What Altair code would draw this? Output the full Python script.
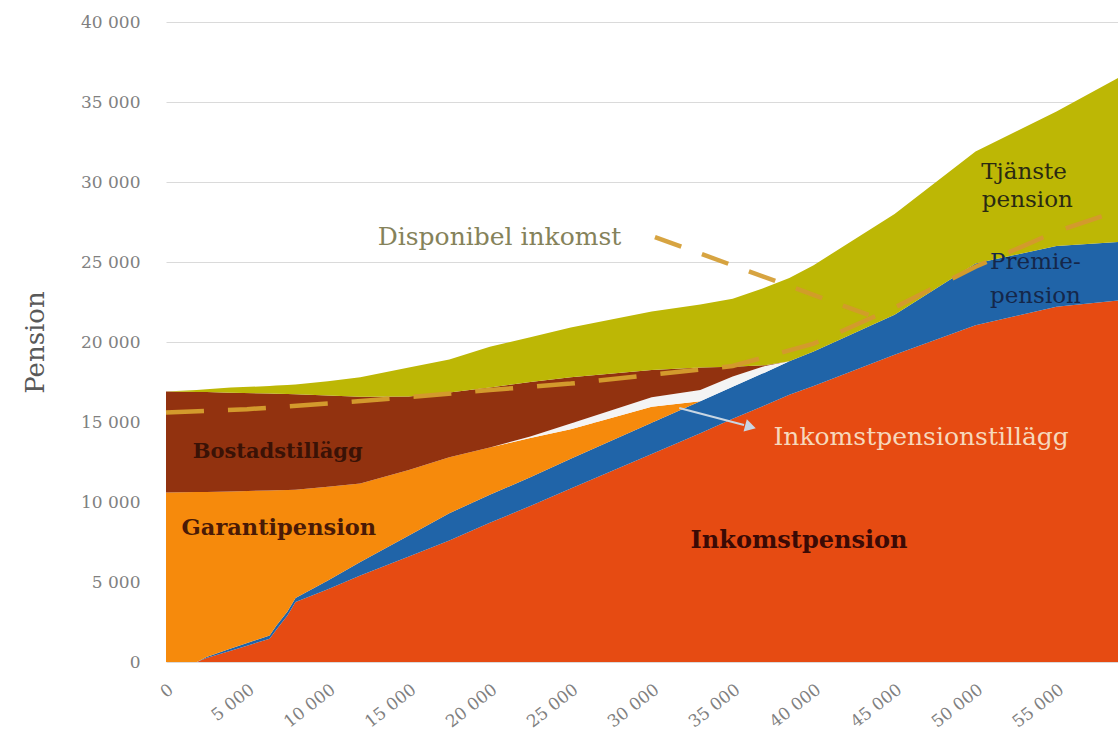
import altair as alt
import pandas as pd

# ---------------- data ----------------
income = [0, 1900, 2500, 4000, 6400, 6800, 7500, 8000, 10000, 12000, 15000, 17500,
          20000, 22500, 25000, 30000, 33000, 35000, 37000, 38500, 40000, 45000,
          50000, 55000, 58800]

inkomstpension = [0, 0, 250, 700, 1450, 2000, 2900, 3750, 4550, 5400, 6600, 7600,
                  8700, 9750, 10850, 13000, 14300, 15200, 16050, 16700, 17250, 19200,
                  21050, 22200, 22600]
premiepension = [0, 0, 70, 150, 200, 250, 250, 250, 550, 850, 1300, 1700,
                 1750, 1800, 1850, 1950, 2000, 2000, 2050, 2100, 2150, 2500,
                 3850, 3800, 3650]
garantipension = [10600, 10620, 10310, 9810, 9070, 8480, 7600, 6770, 5850, 4900, 4100, 3500,
                  2950, 2450, 1850, 1000, 0, 0, 0, 0, 0, 0,
                  0, 0, 0]
inkomstpensionstillagg = [0, 0, 0, 0, 0, 0, 0, 0, 0, 0, 0, 0,
                          0, 100, 350, 600, 700, 650, 400, 0, 0, 0,
                          0, 0, 0]
bostadstillagg = [6300, 6260, 6240, 6170, 6060, 6040, 6000, 5960, 5700, 5430, 4600, 4050,
                  3750, 3400, 2900, 1700, 1400, 600, 50, 0, 0, 0,
                  0, 0, 0]
tjanstepension = [0, 120, 180, 320, 470, 510, 570, 620, 900, 1220, 1800, 2050,
                  2550, 2800, 3100, 3650, 3950, 4250, 4850, 5200, 5400, 6300,
                  7000, 8400, 10250]

series_names = ["Inkomstpension", "Premiepension", "Garantipension",
                "Inkomstpensionstillägg", "Bostadstillägg", "Tjänstepension"]
series_values = [inkomstpension, premiepension, garantipension,
                 inkomstpensionstillagg, bostadstillagg, tjanstepension]
series_colors = ["#E64B12", "#2064A8", "#F68A0C", "#F4F4F4", "#92320F", "#BDB705"]

disp_income = [0, 5000, 10000, 15000, 20000, 25000, 30000, 35000, 40000, 45000,
               50000, 55000, 58800]
disp_values = [15600, 15800, 16150, 16550, 17000, 17400, 17950, 18500, 19900, 22150,
               24700, 26900, 28200]

# leader line from the "Disponibel inkomst" label to the line
leader_income = [30200, 43400]
leader_values = [26560, 21690]

# arrow pointing from the thin white band to its label
arrow_income = [31700, 35700]
arrow_values = [15875, 14810]
arrowhead_income = [36100]
arrowhead_values = [14700]

# text labels: text, income, value, colour, size, weight
label_texts = ["Bostadstillägg", "Garantipension", "Inkomstpension", "Inkomstpensionstillägg",
               "Disponibel inkomst", "Tjänste", "pension", "Premie-", "pension"]
label_income = [6900, 6970, 39100, 46640, 20600, 53000, 53200, 53700, 53700]
label_values = [13100, 8375, 7560, 14060, 26560, 30600, 28850, 25000, 22900]
label_colors = ["#3A1206", "#4A1A06", "#3B0A05", "#F6D8BC", "#85825A",
                "#2A2A12", "#2A2A12", "#15274A", "#15274A"]
label_sizes = [21, 22.5, 24, 25, 25, 23, 23, 23, 23]
label_weights = ["bold", "bold", "bold", "normal", "normal",
                 "normal", "normal", "normal", "normal"]

# ---------------- build tables ----------------
rows = []
for order, (name, vals) in enumerate(zip(series_names, series_values)):
    for x, v in zip(income, vals):
        rows.append({"inkomst": x, "belopp": v, "serie": name, "ordning": order})
df_areas = pd.DataFrame(rows)

df_disp = pd.DataFrame({"inkomst": disp_income, "belopp": disp_values})
df_leader = pd.DataFrame({"inkomst": leader_income, "belopp": leader_values})
df_arrow = pd.DataFrame({"inkomst": arrow_income, "belopp": arrow_values})
df_head = pd.DataFrame({"inkomst": arrowhead_income, "belopp": arrowhead_values})

FONT = "DejaVu Serif"
fmt = "replace(format(datum.value, ','), ',', ' ')"

x_scale = alt.Scale(domain=[0, 58800], nice=False, zero=True)
y_scale = alt.Scale(domain=[0, 40000], nice=False)

x_axis = alt.Axis(values=list(range(0, 60000, 5000)), labelExpr=fmt, labelAngle=-38,
                  labelFont=FONT, labelFontSize=17, labelColor="#808080",
                  labelPadding=19, grid=False, domain=False, ticks=False, title=None)
y_axis = alt.Axis(values=list(range(0, 45000, 5000)), labelExpr=fmt,
                  labelFont=FONT, labelFontSize=17, labelColor="#808080",
                  labelPadding=26, grid=True, gridColor="#DADADA", gridWidth=1,
                  domain=False, ticks=False, title="Pension", titleFont=FONT,
                  titleFontSize=26, titleFontWeight="normal", titleColor="#595959",
                  titlePadding=32)

areas = alt.Chart(df_areas).mark_area(interpolate="linear").encode(
    x=alt.X("inkomst:Q", scale=x_scale, axis=x_axis),
    y=alt.Y("belopp:Q", scale=y_scale, axis=y_axis, stack="zero"),
    color=alt.Color("serie:N", scale=alt.Scale(domain=series_names, range=series_colors),
                    legend=None),
    order=alt.Order("ordning:Q", sort="ascending"),
)

dash_color = "#D39A2C"
disp_line = alt.Chart(df_disp).mark_line(color=dash_color, strokeWidth=4.5,
                                         strokeDash=[38, 24]).encode(
    x="inkomst:Q", y="belopp:Q")

leader = alt.Chart(df_leader).mark_line(color=dash_color, strokeWidth=4.5,
                                        strokeDash=[28, 22], opacity=0.9).encode(
    x="inkomst:Q", y="belopp:Q")

arrow = alt.Chart(df_arrow).mark_line(color="#C9D6E3", strokeWidth=2).encode(
    x="inkomst:Q", y="belopp:Q")
head = alt.Chart(df_head).mark_point(shape="triangle-right", filled=True, size=160,
                                     color="#C9D6E3", opacity=1, angle=15).encode(
    x="inkomst:Q", y="belopp:Q")

text_layers = []
for t, xi, yi, c, s, w in zip(label_texts, label_income, label_values, label_colors,
                              label_sizes, label_weights):
    d = pd.DataFrame({"inkomst": [xi], "belopp": [yi], "txt": [t]})
    text_layers.append(
        alt.Chart(d).mark_text(font=FONT, fontSize=s, fontWeight=w, color=c,
                               align="center", baseline="middle").encode(
            x="inkomst:Q", y="belopp:Q", text="txt:N")
    )

chart = alt.layer(areas, disp_line, leader, arrow, head, *text_layers).properties(
    width=952, height=640,
    padding={"left": 166, "top": 22, "right": 0, "bottom": 76},
    autosize=alt.AutoSizeParams(type="none"),
    background="white",
).configure_view(stroke=None)

chart.save("out.html", embed_options={"renderer": "svg", "actions": False})
